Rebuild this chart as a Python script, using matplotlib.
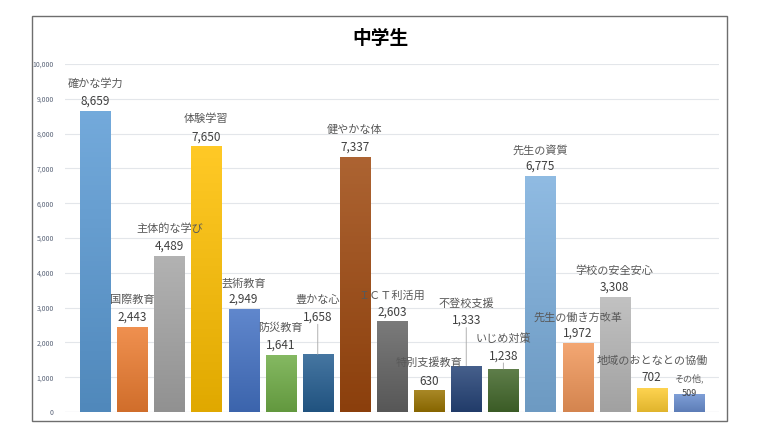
import matplotlib.pyplot as plt
import matplotlib.colors as mcolors
import numpy as np
from matplotlib.patches import Rectangle

plt.rcParams['font.family'] = ['Noto Sans CJK JP', 'DejaVu Sans']

# ===== データ =====
categories = ['確かな学力', '国際教育', '主体的な学び', '体験学習', '芸術教育', '防災教育',
              '豊かな心', '健やかな体', 'ＩＣＴ利活用', '特別支援教育', '不登校支援',
              'いじめ対策', '先生の資質', '先生の働き方改革', '学校の安全安心',
              '地域のおとなとの協働', 'その他']
values = [8659, 2443, 4489, 7650, 2949, 1641, 1658, 7337, 2603, 630, 1333,
          1238, 6775, 1972, 3308, 702, 509]
colors = ['#5B9BD5', '#ED7D31', '#A5A5A5', '#FFC000', '#4472C4', '#70AD47',
          '#255E91', '#9E480E', '#636363', '#997300', '#264478', '#43682B',
          '#7CAFDD', '#F1975A', '#B7B7B7', '#FFCD33', '#698ED0']

# ラベル位置 (棒の上端からのピクセル距離: 値ラベル / 項目ラベル)
val_off = [10, 10, 10, 9, 10, 10, 37, 10, 9, 9, 45, 13, 10, 10, 10, 10, 1]
cat_off = [27, 27, 27, 27, 26, 27, 54, 27, 26, 27, 62, 30, 26, 26, 26, 27, 16]
leader = [6, 10, 11]  # 引き出し線あり

fig = plt.figure(figsize=(7.6, 4.28), dpi=100)
fig.patches.append(Rectangle((32 / 760, 1 - 421 / 428), 695 / 760, 405 / 428,
                             transform=fig.transFigure, fill=False,
                             edgecolor='#6E6E6E', linewidth=1.0))
ax = fig.add_axes([65 / 760, 1 - 412 / 428, 654 / 760, 348 / 428])

x = np.arange(len(values))
bars = ax.bar(x, values, width=0.81, color=colors, zorder=2)

# Excel風グラデーション
for b, c in zip(bars, colors):
    rgb = np.array(mcolors.to_rgb(c))
    top = rgb + (1 - rgb) * 0.15
    bot = rgb * 0.88
    t = np.linspace(0, 1, 64)[:, None]
    grad = (top * (1 - t) + bot * t)[:, None, :]
    x0, y0 = b.get_x(), b.get_y()
    im = ax.imshow(grad, extent=[x0, x0 + b.get_width(), y0, y0 + b.get_height()],
                   aspect='auto', zorder=3, origin='upper')
    im.set_clip_path(b)
    b.set_facecolor('none')

ax.set_xlim(-0.81, len(values) - 1 + 0.81)
ax.set_ylim(0, 10000)
ax.set_yticks(np.arange(0, 10001, 1000))
ax.set_yticklabels([f'{v:,}' for v in range(0, 10001, 1000)], fontsize=5, color='#5A6478')
ax.set_xticks([])
ax.grid(axis='y', color='#E3E6EA', linewidth=0.8, zorder=0)
for s in ax.spines.values():
    s.set_visible(False)
ax.axhline(0, color='#D9D9D9', linewidth=0.8, zorder=1)
ax.tick_params(axis='y', length=0, pad=8)

pt = 0.72  # px -> pt
for i, (v, c) in enumerate(zip(values, categories)):
    small = (i == len(values) - 1)
    vs = 6.5 if small else 8.5
    cs = 6.5 if small else 8
    ctext = c + ',' if small else c
    ax.annotate(f'{v:,}', (i, v), xytext=(0, val_off[i] * pt), textcoords='offset points',
                ha='center', va='center', fontsize=vs, color='#404040', zorder=5)
    ax.annotate(ctext, (i, v), xytext=(0, cat_off[i] * pt), textcoords='offset points',
                ha='center', va='center', fontsize=cs, color='#595959', zorder=5)
    if i in leader:
        ax.annotate('', (i, v), xytext=(0, (val_off[i] - 7) * pt), textcoords='offset points',
                    arrowprops=dict(arrowstyle='-', color='#A6A6A6', lw=0.6,
                                    shrinkA=0, shrinkB=0), zorder=4)

fig.text(380 / 760, 1 - 38 / 428, '中学生', ha='center', va='center',
         fontsize=13.5, fontweight='bold', color='#000000')

plt.savefig('out.png', dpi=100)
